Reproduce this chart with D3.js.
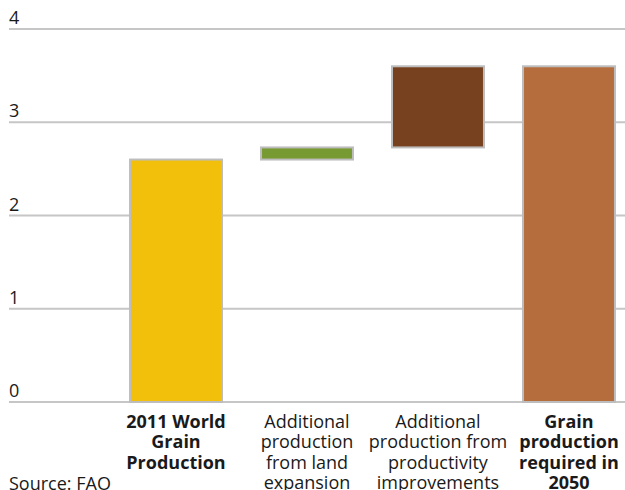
<!DOCTYPE html>
<html>
<head>
<meta charset="utf-8">
<script src="https://cdn.jsdelivr.net/npm/d3@7"></script>
<style>
  html, body { margin: 0; padding: 0; background: #fff; }
  svg { display: block; }
  text { font-family: "Open Sans", sans-serif; font-size: 18px; fill: #1a1a1a; }
</style>
</head>
<body>
<svg id="chart" width="625" height="490"></svg>
<script>
// Grain production waterfall (billion tonnes)
const categories = [
  "2011 World Grain Production",
  "Additional production from land expansion",
  "Additional production from productivity improvements",
  "Grain production required in 2050"
];
const labelLines = [
  ["2011 World", "Grain", "Production"],
  ["Additional", "production", "from land", "expansion"],
  ["Additional", "production from", "productivity", "improvements"],
  ["Grain", "production", "required in", "2050"]
];
const values = [2.6, 0.13, 0.87, 3.6];
const kinds = ["total", "step", "step", "total"];
const colors = ["#F2C00B", "#789A32", "#77411F", "#B56D3E"];
const yTicks = [0, 1, 2, 3, 4];
const sourceText = "Source: FAO";

// Build floating segments: totals start at zero, steps start at the running sum
let running = 0;
const segments = categories.map((c, i) => {
  let lo, hi;
  if (kinds[i] === "total") { lo = 0; hi = values[i]; running = values[i]; }
  else { lo = running; hi = running + values[i]; running = hi; }
  return { cat: c, lo, hi, color: colors[i], lines: labelLines[i], bold: kinds[i] === "total" };
});

const svg = d3.select("#chart");

const x = d3.scaleBand()
  .domain(categories)
  .range([91, 654])
  .paddingInner(0.298)
  .paddingOuter(0.298);

const y = d3.scaleLinear().domain([0, 4]).range([402, 29]);

// Horizontal gridlines with tick numbers above them
const grid = svg.append("g");
grid.selectAll("line")
  .data(yTicks)
  .join("line")
  .attr("x1", 9).attr("x2", 625)
  .attr("y1", d => y(d)).attr("y2", d => y(d))
  .attr("stroke", "#c6c6c6")
  .attr("stroke-width", 2);
grid.selectAll("text")
  .data(yTicks)
  .join("text")
  .attr("x", 9)
  .attr("y", d => y(d) - 5)
  .text(d => d);

// Bars
svg.append("g").selectAll("rect")
  .data(segments)
  .join("rect")
  .attr("x", d => x(d.cat))
  .attr("width", x.bandwidth())
  .attr("y", d => y(d.hi))
  .attr("height", d => y(d.lo) - y(d.hi))
  .attr("fill", d => d.color)
  .attr("stroke", "#bdbdbd")
  .attr("stroke-width", 2);

// Category labels below the axis
const lab = svg.append("g").selectAll("text")
  .data(segments)
  .join("text")
  .attr("text-anchor", "middle")
  .attr("font-weight", d => d.bold ? 700 : 400)
  .attr("x", d => x(d.cat) + x.bandwidth() / 2)
  .attr("y", 427.5);
lab.selectAll("tspan")
  .data(d => d.lines.map(t => ({ t, cx: x(d.cat) + x.bandwidth() / 2 })))
  .join("tspan")
  .attr("x", d => d.cx)
  .attr("dy", (d, i) => i === 0 ? 0 : 20.5)
  .text(d => d.t);

// Source note
svg.append("text")
  .attr("x", 9)
  .attr("y", 490)
  .text(sourceText);
</script>
</body>
</html>
